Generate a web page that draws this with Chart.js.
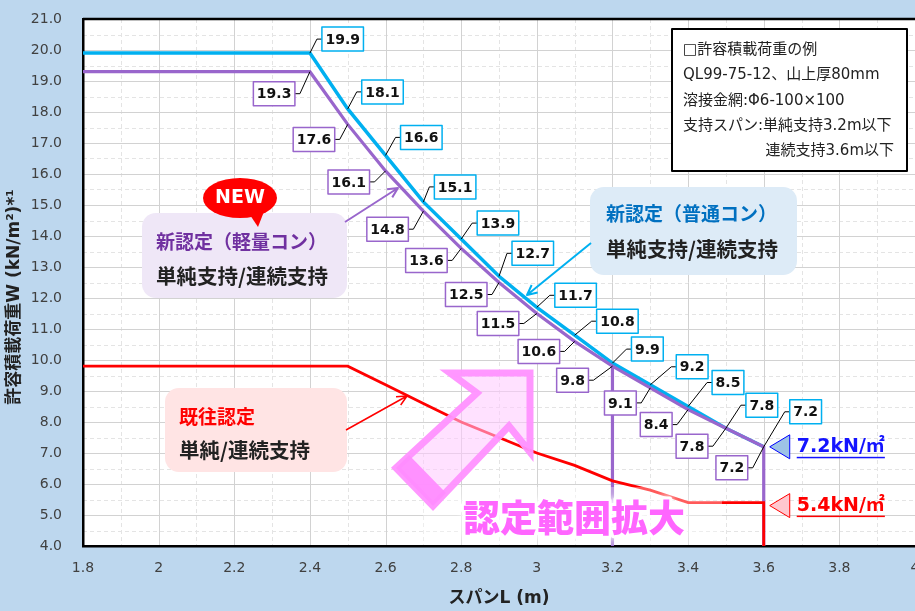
<!DOCTYPE html>
<html>
<head>
<meta charset="utf-8">
<script src="https://cdn.jsdelivr.net/npm/chart.js@4.4.1/dist/chart.umd.min.js"></script>
<style>
  html, body { margin: 0; padding: 0; background: #BDD7EE; }
</style>
</head>
<body>
<canvas id="chart" width="915" height="611"></canvas>
<script>
// span L (m) and allowable load W (kN/m2)
const spanL   = [1.8, 2.4, 2.5, 2.6, 2.7, 2.8, 2.9, 3.0, 3.1, 3.2, 3.3, 3.4, 3.5, 3.6];
const normalW = [19.9, 19.9, 18.1, 16.6, 15.1, 13.9, 12.7, 11.7, 10.8, 9.9, 9.2, 8.5, 7.8, 7.2];
const lightW  = [19.3, 19.3, 17.6, 16.1, 14.8, 13.6, 12.5, 11.5, 10.6, 9.8, 9.1, 8.4, 7.8, 7.2];
const pastSpan = [1.8, 2.5, 2.6, 2.7, 2.8, 2.9, 3.0, 3.1, 3.2, 3.3, 3.4, 3.6];
const pastW    = [9.8, 9.8, 9.2, 8.6, 8.0, 7.5, 7.0, 6.6, 6.1, 5.8, 5.4, 5.4];
const simpleLimit = 3.2;      // 単純支持
const continuousLimit = 3.6;  // 連続支持
const xMin = 1.8, xMax = 4.0, yMin = 4.0, yMax = 21.0;

const yTitle = '許容積載荷重W (kN/m²)*¹';
const legendLines = ['□許容積載荷重の例', 'QL99-75-12、山上厚80mm', '溶接金網:Φ6-100×100', '支持スパン:単純支持3.2m以下', '連続支持3.6m以下'];

// label box offsets from the point (px): [dx, dy]
const normalLabelOffset = [null, [12, -14], [14, -17], [15, -18], [11, -15], [16, -16], [13, -23],
  [18, -12], [22, -14], [19, -14], [26, -18], [24, -24], [20, -23], [26, -35]];
const lightLabelOffset = [null, [-15, 22], [-13, 15], [-16, 11], [-15, 18], [-14, 12], [-12, 12],
  [-18, 10], [-15, 10], [-24, 14], [-14, 15], [-16, 15], [-18, 18], [-16, 21]];

const BLUE = '#00B0F0', PURPLE = '#9966CC', RED = '#FF0000';
const JP = '"DejaVu Sans", "Noto Sans CJK JP", sans-serif';
const CJK = '"Noto Sans CJK JP", sans-serif';

const pts = (xs, ys) => xs.map((x, i) => ({ x: x, y: ys[i] }));

const normalData = pts(spanL, normalW);
const lightData = pts(spanL, lightW).concat([{ x: continuousLimit, y: yMin }]);
const lightSimpleData = [{ x: simpleLimit, y: lightW[spanL.indexOf(simpleLimit)] }, { x: simpleLimit, y: yMin }];
const pastData = pts(pastSpan, pastW).concat([{ x: continuousLimit, y: yMin }]);

function roundBox(ctx, x, y, w, h, r, fill) {
  ctx.beginPath();
  ctx.roundRect(x, y, w, h, r);
  ctx.fillStyle = fill;
  ctx.fill();
}

function arrow(ctx, x1, y1, x2, y2, color, width) {
  const a = Math.atan2(y2 - y1, x2 - x1), s = 11;
  ctx.strokeStyle = color;
  ctx.lineWidth = width;
  ctx.beginPath();
  ctx.moveTo(x1, y1);
  ctx.lineTo(x2, y2);
  ctx.moveTo(x2 - s * Math.cos(a - 0.45), y2 - s * Math.sin(a - 0.45));
  ctx.lineTo(x2, y2);
  ctx.lineTo(x2 - s * Math.cos(a + 0.45), y2 - s * Math.sin(a + 0.45));
  ctx.stroke();
}

function valueLabel(ctx, px, py, text, off, color, toRight) {
  ctx.font = 'bold 14px "DejaVu Sans"';
  const w = ctx.measureText(text).width + 7, h = 24;
  const my = py + off[1];
  const bx = toRight ? px + off[0] : px + off[0] - w;
  const edge = toRight ? bx : bx + w;
  const elbow = toRight ? bx - 5 : bx + w + 5;
  ctx.strokeStyle = '#000';
  ctx.lineWidth = 1;
  ctx.beginPath();
  ctx.moveTo(px, py);
  ctx.lineTo(elbow, my);
  ctx.lineTo(edge, my);
  ctx.stroke();
  ctx.fillStyle = '#fff';
  ctx.fillRect(bx, my - h / 2, w, h);
  ctx.strokeStyle = color;
  ctx.lineWidth = 1.5;
  ctx.strokeRect(bx, my - h / 2, w, h);
  ctx.fillStyle = '#111';
  ctx.textAlign = 'center';
  ctx.textBaseline = 'middle';
  ctx.fillText(text, bx + w / 2, my + 1);
}

const backgroundPlugin = {
  id: 'background',
  beforeDraw(chart) {
    const { ctx, chartArea: a, scales: { x, y } } = chart;
    ctx.save();
    ctx.fillStyle = '#BDD7EE';
    ctx.fillRect(0, 0, chart.width, chart.height);
    ctx.fillStyle = '#fff';
    ctx.fillRect(a.left, a.top, a.right - a.left, a.bottom - a.top);

    // minor dashed grid
    ctx.lineWidth = 1;
    ctx.strokeStyle = '#E4E4E4';
    ctx.setLineDash([4, 3]);
    ctx.beginPath();
    for (let i = 1; i < 22; i += 2) {
      const px = Math.round(x.getPixelForValue(xMin + i * 0.1)) + 0.5;
      ctx.moveTo(px, a.top); ctx.lineTo(px, a.bottom);
    }
    for (let v = yMin + 0.5; v < yMax; v += 1) {
      const py = Math.round(y.getPixelForValue(v)) + 0.5;
      ctx.moveTo(a.left, py); ctx.lineTo(a.right, py);
    }
    ctx.stroke();

    // major grid
    ctx.setLineDash([]);
    ctx.strokeStyle = '#D2D2D2';
    ctx.beginPath();
    for (let i = 2; i < 22; i += 2) {
      const px = Math.round(x.getPixelForValue(xMin + i * 0.1)) + 0.5;
      ctx.moveTo(px, a.top); ctx.lineTo(px, a.bottom);
    }
    for (let v = yMin + 1; v < yMax; v += 1) {
      const py = Math.round(y.getPixelForValue(v)) + 0.5;
      ctx.moveTo(a.left, py); ctx.lineTo(a.right, py);
    }
    ctx.stroke();

    // y axis title, sits a little below the axis centre
    ctx.translate(15, 297);
    ctx.rotate(-Math.PI / 2);
    ctx.font = 'bold 17px ' + JP;
    ctx.fillStyle = '#222';
    ctx.textAlign = 'center';
    ctx.textBaseline = 'middle';
    ctx.fillText(yTitle, 0, 0);
    ctx.restore();
  }
};

const annotationPlugin = {
  id: 'annotations',
  afterDatasetsDraw(chart) {
    const { ctx, chartArea: a, scales: { x, y } } = chart;
    ctx.save();

    // faded area behind the big caption
    ctx.fillStyle = 'rgba(255,255,255,0.35)';
    ctx.fillRect(423, 487, 299, a.bottom - 488);

    // big pink arrow
    const arrowPts = [[450, 373], [530, 373], [530, 452], [509, 426], [433, 506], [396, 468], [477, 393]];
    ctx.beginPath();
    arrowPts.forEach((p, i) => i ? ctx.lineTo(p[0], p[1]) : ctx.moveTo(p[0], p[1]));
    ctx.closePath();
    ctx.fillStyle = 'rgba(255,200,255,0.55)';
    ctx.fill();
    ctx.lineJoin = 'miter';
    ctx.lineWidth = 7;
    ctx.strokeStyle = 'rgba(255,145,255,0.95)';
    ctx.stroke();
    ctx.beginPath();
    ctx.moveTo(396, 468); ctx.lineTo(409, 455); ctx.lineTo(446, 493); ctx.lineTo(433, 506);
    ctx.closePath();
    ctx.fillStyle = 'rgba(255,140,255,0.95)';
    ctx.fill();

    // caption
    ctx.font = '900 37px ' + CJK;
    ctx.textAlign = 'left';
    ctx.textBaseline = 'middle';
    ctx.lineJoin = 'round';
    ctx.shadowColor = '#fff';
    ctx.shadowBlur = 6;
    ctx.strokeStyle = '#fff';
    ctx.lineWidth = 6;
    ctx.strokeText('認定範囲拡大', 463, 518);
    ctx.shadowBlur = 0;
    ctx.fillStyle = '#FF66FF';
    ctx.fillText('認定範囲拡大', 463, 518);

    // light concrete bubble
    roundBox(ctx, 142, 213, 205, 85, 14, '#EFE7F7');
    ctx.fillStyle = '#7030A0';
    ctx.font = 'bold 19px ' + CJK;
    ctx.fillText('新認定（軽量コン）', 156, 242);
    ctx.fillStyle = '#222';
    ctx.font = 'bold 20.5px ' + CJK;
    ctx.fillText('単純支持/連続支持', 156, 276);
    arrow(ctx, 345, 222, 398, 188, PURPLE, 2);

    // NEW mark
    ctx.fillStyle = '#FF0000';
    ctx.beginPath();
    ctx.ellipse(240, 198, 37, 20, 0, 0, Math.PI * 2);
    ctx.fill();
    ctx.beginPath();
    ctx.moveTo(248, 212); ctx.lineTo(265, 209); ctx.lineTo(258, 227);
    ctx.closePath();
    ctx.fill();
    ctx.fillStyle = '#fff';
    ctx.font = 'bold 19px "DejaVu Sans"';
    ctx.textAlign = 'center';
    ctx.fillText('NEW', 240, 198);
    ctx.textAlign = 'left';

    // normal concrete bubble
    roundBox(ctx, 590, 187, 207, 88, 14, '#DDEBF7');
    ctx.fillStyle = '#0070C0';
    ctx.font = 'bold 19px ' + CJK;
    ctx.fillText('新認定（普通コン）', 606, 214);
    ctx.fillStyle = '#222';
    ctx.font = 'bold 20.5px ' + CJK;
    ctx.fillText('単純支持/連続支持', 606, 249);
    arrow(ctx, 591, 243, 527, 295, BLUE, 2);

    // previous approval bubble
    roundBox(ctx, 165, 388, 182, 84, 14, '#FFE4E4');
    ctx.fillStyle = '#FF0000';
    ctx.font = 'bold 19px ' + CJK;
    ctx.fillText('既往認定', 179, 417);
    ctx.fillStyle = '#222';
    ctx.font = 'bold 20.5px ' + CJK;
    ctx.fillText('単純/連続支持', 179, 450);
    arrow(ctx, 346, 430, 407, 396, RED, 1.5);

    // example box
    ctx.fillStyle = '#fff';
    ctx.fillRect(672, 29, 235, 142);
    ctx.strokeStyle = '#000';
    ctx.lineWidth = 2;
    ctx.strokeRect(672, 29, 235, 142);
    ctx.fillStyle = '#222';
    ctx.font = '15px ' + JP;
    legendLines.forEach((t, i) => {
      if (i === legendLines.length - 1) {
        ctx.textAlign = 'right';
        ctx.fillText(t, 894, 50 + i * 25.4);
        ctx.textAlign = 'left';
      } else {
        ctx.fillText(t, 683, 50 + i * 25.4);
      }
    });

    // value labels
    for (let i = 1; i < spanL.length; i++) {
      valueLabel(ctx, x.getPixelForValue(spanL[i]), y.getPixelForValue(normalW[i]),
        normalW[i].toFixed(1), normalLabelOffset[i], BLUE, true);
    }
    for (let i = 1; i < spanL.length; i++) {
      valueLabel(ctx, x.getPixelForValue(spanL[i]), y.getPixelForValue(lightW[i]),
        lightW[i].toFixed(1), lightLabelOffset[i], PURPLE, false);
    }

    // limit markers
    const tipX = x.getPixelForValue(continuousLimit) + 6;
    const marks = [
      { v: normalW[normalW.length - 1], dy: 0, fill: '#9DC3E6', line: '#0000FF', text: '#1414FF' },
      { v: pastW[pastW.length - 1], dy: 3, fill: '#FFC7CE', line: '#FF0000', text: '#FF0000' }
    ];
    marks.forEach(m => {
      const my = y.getPixelForValue(m.v) + m.dy;
      ctx.beginPath();
      ctx.moveTo(tipX, my); ctx.lineTo(tipX + 20, my - 12); ctx.lineTo(tipX + 20, my + 12);
      ctx.closePath();
      ctx.fillStyle = m.fill;
      ctx.fill();
      ctx.strokeStyle = m.line;
      ctx.lineWidth = 1;
      ctx.stroke();
      const t = m.v.toFixed(1) + 'kN/㎡';
      ctx.font = 'bold 19px ' + JP;
      ctx.fillStyle = m.text;
      ctx.textAlign = 'left';
      ctx.textBaseline = 'middle';
      ctx.fillText(t, tipX + 27, my);
      const tw = ctx.measureText(t).width;
      ctx.fillRect(tipX + 27, my + 10, tw, 1.5);
    });

    // top frame line
    ctx.strokeStyle = '#000';
    ctx.lineWidth = 2.5;
    ctx.beginPath();
    ctx.moveTo(a.left, a.top); ctx.lineTo(a.right, a.top);
    ctx.stroke();
    ctx.restore();
  }
};

new Chart(document.getElementById('chart').getContext('2d'), {
  type: 'line',
  data: {
    datasets: [
      { label: '既往認定', data: pastData, borderColor: RED, borderWidth: 2.8 },
      { label: '新認定（軽量コン）', data: lightData, borderColor: PURPLE, borderWidth: 3.2 },
      { label: '単純支持', data: lightSimpleData, borderColor: PURPLE, borderWidth: 3.2 },
      { label: '新認定（普通コン）', data: normalData, borderColor: BLUE, borderWidth: 3.5 }
    ]
  },
  options: {
    responsive: false,
    animation: false,
    devicePixelRatio: 1,
    layout: { padding: { top: 19, right: 0, left: 0, bottom: 0 } },
    elements: { point: { radius: 0 }, line: { tension: 0, fill: false } },
    plugins: { legend: { display: false }, tooltip: { enabled: false } },
    scales: {
      x: {
        type: 'linear', min: xMin, max: xMax,
        grid: { display: false, drawTicks: false },
        border: { display: true, color: '#000', width: 2.5 },
        ticks: {
          stepSize: 0.2, autoSkip: false, maxRotation: 0, padding: 14, color: '#404040',
          font: { family: 'DejaVu Sans', size: 14 },
          callback: v => String(Math.round(v * 10) / 10)
        },
        title: {
          display: true, text: 'スパンL (m)', color: '#222',
          font: { family: JP, size: 17, weight: 'bold' }, padding: { top: 0, bottom: 2 }
        },
        afterFit(s) { s.height = 65; s.paddingLeft = 0; s.paddingRight = 0; }
      },
      y: {
        min: yMin, max: yMax,
        grid: { display: false, drawTicks: false },
        border: { display: true, color: '#000', width: 2.5 },
        ticks: {
          stepSize: 1, padding: 21, color: '#404040',
          font: { family: 'DejaVu Sans', size: 14 },
          callback: v => v.toFixed(1)
        },
        afterFit(s) { s.width = 83; s.paddingTop = 0; s.paddingBottom = 0; }
      }
    }
  },
  plugins: [backgroundPlugin, annotationPlugin]
});
</script>
</body>
</html>
